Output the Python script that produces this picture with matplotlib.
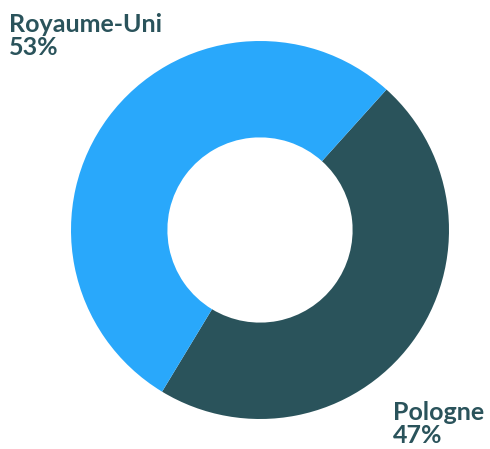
import matplotlib.pyplot as plt

labels = ['Pologne', 'Royaume-Uni']
values = [47, 53]
colors = ['#2a535b', '#29a8fb']
text_color = '#2a535b'

W, H = 490, 449
fig = plt.figure(figsize=(W / 100, H / 100), dpi=100)

cx, cy, r = 260, 230, 189
ax = fig.add_axes([(cx - r) / W, (H - cy - r) / H, 2 * r / W, 2 * r / H])
ax.pie(values, colors=colors, startangle=48, counterclock=False, radius=1,
       wedgeprops=dict(width=0.51, edgecolor='none'))
ax.set_xlim(-1, 1)
ax.set_ylim(-1, 1)
ax.set_aspect('equal')
ax.axis('off')

font = dict(family='Lato', weight='bold', size=18, color=text_color, linespacing=0.98)
fig.text(9 / W, 1 - 13 / H, '%s\n%d%%' % (labels[1], values[1]), ha='left', va='top', **font)
fig.text(393 / W, 1 - 401 / H, '%s\n%d%%' % (labels[0], values[0]), ha='left', va='top', **font)

plt.savefig('out.png', dpi=100)
